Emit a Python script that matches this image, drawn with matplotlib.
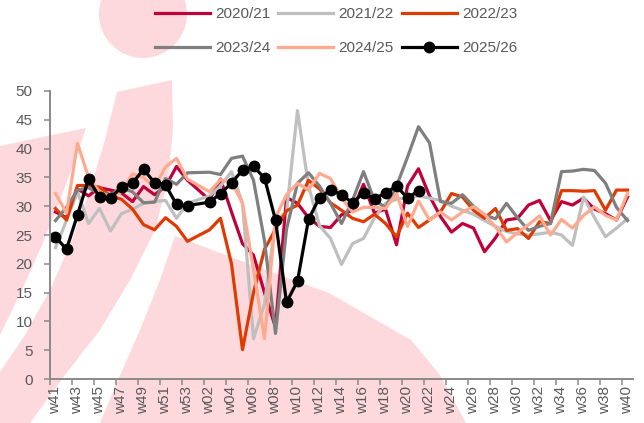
import numpy as np
import matplotlib
matplotlib.use("Agg")
import matplotlib.pyplot as plt
from matplotlib.patches import Polygon, Circle
from matplotlib.transforms import Affine2D

plt.rcParams['font.family'] = ['Liberation Sans', 'DejaVu Sans']

N = np.nan
weeks = ([f"w{w}" for w in range(41, 54)] + [f"w{w:02d}" for w in range(1, 41)])

s2020_21 = [29.0, 28.0, 33.0, 31.8, 33.2, 32.8, 32.3, 30.8, 33.4, 32.0, 33.4, 36.9, 34.5, 32.8,
            31.1, 34.7, 29.0, 23.5, 21.5, 15.0, 9.0, 31.5, 30.5, 28.0, 26.5, 26.3, 28.5, 29.3,
            33.8, 28.8, 29.5, 23.3, 33.5, 36.5, 31.8, 28.2, 25.5, 27.0, 26.2, 22.1, 24.5, 27.6,
            27.9, 30.2, 31.0, 27.5, 30.8, 30.2, 31.4, 29.5, 28.7, 27.6, 31.6]
s2021_22 = [22.8, 27.5, 32.5, 27.0, 29.6, 25.7, 28.7, 29.5, 30.5, 30.8, 31.0, 27.9, 30.5, N,
            31.8, 33.5, 36.0, 30.5, 7.0, 13.0, 27.5, 29.0, 46.6, 33.5, 26.6, 24.4, 19.9, 23.5,
            24.4, 28.0, 30.5, 31.2, 31.5, 31.8, 31.4, 31.0, 30.0, 29.3, 28.6, 27.5, 26.5, 25.6,
            25.2, 25.0, 25.2, 25.5, 25.0, 23.2, 31.6, 28.0, 24.7, 26.2, 27.8]
s2022_23 = [29.6, 27.6, 33.6, 33.6, 33.3, 31.8, 31.2, 29.5, 26.8, 25.9, 28.0, 26.5, 23.9, N,
            25.9, 27.9, 20.0, 5.1, 15.0, 22.5, 26.0, 29.2, 30.2, 34.5, 33.0, 30.6, 29.3, 27.9,
            27.3, 28.6, 27.0, 24.7, 28.8, 26.3, 27.6, 29.0, 32.2, 31.6, 29.3, 27.9, 29.6, 25.8,
            26.1, 24.4, 27.3, 27.0, 32.7, 32.7, 32.6, 32.7, 29.3, 32.8, 32.8]
s2023_24 = [27.5, 29.8, 32.8, 33.2, 32.2, 32.0, 33.2, 32.5, 30.6, 30.7, 34.8, 33.8, 35.8, N,
            35.9, 35.5, 38.3, 38.7, 34.5, 24.0, 7.9, 26.0, 34.0, 35.8, 33.5, 30.5, 27.0, 31.0,
            36.0, 31.0, 29.8, 33.5, 38.5, 43.8, 41.0, 30.8, 30.5, 32.0, 30.0, 28.5, 27.8, 30.5,
            28.0, 25.8, 26.5, 27.0, 36.0, 36.1, 36.4, 36.2, 34.0, 29.8, 27.5]
s2024_25 = [32.2, 28.8, 40.9, 35.0, 32.5, 31.6, 32.5, 35.6, 35.0, 33.3, 36.8, 38.3, 34.7, N,
            32.5, 34.6, 34.2, 30.5, 19.0, 7.0, 28.0, 32.0, 34.0, 32.8, 35.7, 34.8, 31.5, 29.0,
            29.8, 29.8, 29.6, 32.2, 26.5, 30.9, 27.6, 29.0, 27.6, 29.0, 29.9, 28.6, 26.4, 23.8,
            25.4, 26.8, 28.3, 25.0, 27.7, 26.2, 28.4, 29.9, 28.4, 27.6, 32.2]
s2025_26 = [24.7, 22.5, 28.5, 34.7, 31.6, 31.4, 33.3, 34.0, 36.4, 34.1, 33.7, 30.3, 30.1, N,
            30.7, 32.2, 34.0, 36.3, 36.9, 34.9, 27.6, 13.3, 17.0, 27.7, 31.5, 32.8, 32.0, 30.6,
            32.3, 31.3, 32.3, 33.5, 31.4, 32.7] + [N] * 19

series = [("2020/21", s2020_21, "#C0003A"),
          ("2021/22", s2021_22, "#BFBFBF"),
          ("2022/23", s2022_23, "#DF3A00"),
          ("2023/24", s2023_24, "#7F7F7F"),
          ("2024/25", s2024_25, "#FFA98F"),
          ("2025/26", s2025_26, "#000000")]

W, H = 644, 423
fig = plt.figure(figsize=(W / 100, H / 100), dpi=100)
fig.patch.set_facecolor("white")

# background watermark (pixel coords, y from top)
px = Affine2D().scale(1 / W, -1 / H).translate(0, 1) + fig.transFigure
pink = "#FDD9DD"
shapes = [
    [(0, 146), (86, 128), (75, 160), (60, 200), (42, 245), (22, 290), (0, 335)],
    [(117, 92), (172, 80), (173, 130), (168, 180), (155, 230), (130, 280), (100, 330),
     (65, 375), (30, 423), (0, 423), (0, 372), (25, 335), (50, 290), (72, 240), (90, 190),
     (105, 140)],
    [(175, 236), (247, 263), (329, 293), (411, 340), (440, 375), (466, 423), (100, 423),
     (118, 380), (140, 330), (160, 280)],
]
for pts in shapes:
    fig.add_artist(Polygon(pts, closed=True, transform=px, facecolor=pink, edgecolor="none", zorder=0))
fig.add_artist(Circle((143, 14), 44, transform=px, facecolor=pink, edgecolor="none", zorder=0))

ax = fig.add_axes([50 / W, 44 / H, 583 / W, 288 / H])
ax.patch.set_alpha(0)
ax.set_zorder(1)

x = np.arange(len(weeks))
for name, vals, col in series:
    v = np.array(vals, dtype=float)
    m = ~np.isnan(v)
    if name == "2025/26":
        ax.plot(x[m], v[m], color=col, lw=2.3, marker="o", ms=7.5, label=name)
    else:
        ax.plot(x[m], v[m], color=col, lw=2.3, label=name)

ax.set_xlim(-0.5, len(weeks) - 0.5)
ax.set_ylim(0, 50)
ax.set_yticks(np.arange(0, 51, 5))
ax.set_xticks(x[::2])
ax.set_xticklabels(weeks[::2], rotation=90)
ax.set_xticks(np.arange(-0.5, len(weeks) - 1, 2), minor=True)
ax.tick_params(axis="x", which="major", length=0, pad=5, labelsize=11, labelcolor="#595959")
ax.tick_params(axis="x", which="minor", length=4.5, width=1.1, color="#898989", direction="out")
ax.tick_params(axis="y", length=4.5, width=1.1, color="#898989", labelsize=11,
               labelcolor="#595959", pad=8)
for s in ["top", "right"]:
    ax.spines[s].set_visible(False)
for s in ["left", "bottom"]:
    ax.spines[s].set_color("#898989")
    ax.spines[s].set_linewidth(1.4)

h, l = ax.get_legend_handles_labels()
order = [0, 3, 1, 4, 2, 5]
leg = fig.legend([h[i] for i in order], [l[i] for i in order], ncol=3, loc="upper center",
                 bbox_to_anchor=(0.522, 1.015), frameon=False, fontsize=11,
                 handlelength=3.6, handletextpad=0.35, columnspacing=0.5, labelspacing=1.3)
for t in leg.get_texts():
    t.set_color("#595959")

fig.savefig("out.png", dpi=100)
